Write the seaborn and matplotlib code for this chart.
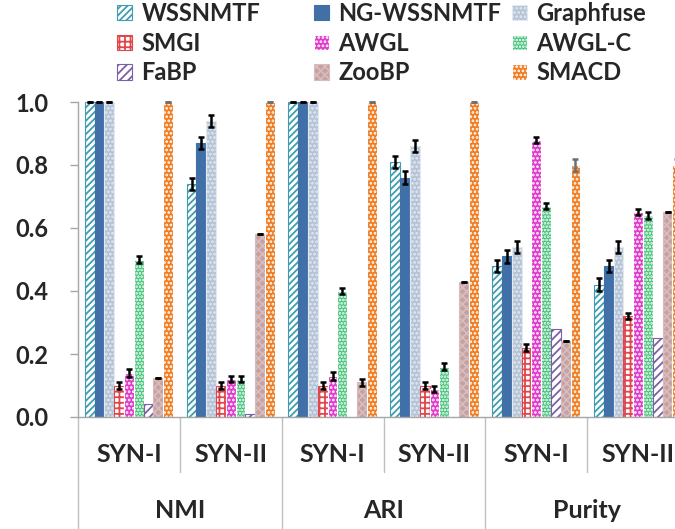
import numpy as np
import pandas as pd
import matplotlib
matplotlib.use("Agg")
import matplotlib.pyplot as plt
import matplotlib.patches as mpatches
import matplotlib.transforms as mtransforms
import seaborn as sns

# ---- data -------------------------------------------------------------
datasets = ["SYN-I", "SYN-II", "SYN-I", "SYN-II", "SYN-I", "SYN-II"]
metrics = ["NMI", "ARI", "Purity"]
methods = ["WSSNMTF", "NG-WSSNMTF", "Graphfuse", "SMGI", "AWGL", "AWGL-C",
           "FaBP", "ZooBP", "SMACD"]

wssnmtf = [1.00, 0.74, 1.00, 0.81, 0.48, 0.42]
ng_wssnmtf = [1.00, 0.87, 1.00, 0.76, 0.51, 0.48]
graphfuse = [1.00, 0.94, 1.00, 0.86, 0.54, 0.54]
smgi = [0.10, 0.10, 0.10, 0.10, 0.22, 0.32]
awgl = [0.14, 0.12, 0.13, 0.09, 0.88, 0.65]
awgl_c = [0.50, 0.12, 0.40, 0.16, 0.67, 0.64]
fabp = [0.04, 0.01, 0.00, 0.00, 0.28, 0.25]
zoobp = [0.125, 0.58, 0.11, 0.43, 0.24, 0.65]
smacd = [1.00, 1.00, 1.00, 1.00, 0.80, 0.80]

wssnmtf_err = [0.0, 0.02, 0.0, 0.02, 0.02, 0.02]
ng_wssnmtf_err = [0.0, 0.02, 0.0, 0.02, 0.02, 0.02]
graphfuse_err = [0.0, 0.02, 0.0, 0.02, 0.02, 0.02]
smgi_err = [0.012, 0.01, 0.01, 0.01, 0.012, 0.01]
awgl_err = [0.012, 0.01, 0.013, 0.01, 0.01, 0.01]
awgl_c_err = [0.01, 0.01, 0.01, 0.01, 0.01, 0.01]
fabp_err = [np.nan] * 6
zoobp_err = [0.0, 0.0, 0.012, 0.0, 0.0, 0.0]
smacd_err = [0.0, 0.0, 0.0, 0.0, 0.02, 0.02]

values = [wssnmtf, ng_wssnmtf, graphfuse, smgi, awgl, awgl_c, fabp, zoobp, smacd]
errors = [wssnmtf_err, ng_wssnmtf_err, graphfuse_err, smgi_err, awgl_err,
          awgl_c_err, fabp_err, zoobp_err, smacd_err]
err_colors = ["black"] * 8 + ["#6e6e6e"]

group_ids = [f"{metrics[i // 2]} {datasets[i]}" for i in range(6)]

# ---- bar appearance: face, hatch, hatch colour, edge ------------------
styles = {
    "WSSNMTF":    ("white",   "/////", "#3f9db1", "#9fd0dc"),
    "NG-WSSNMTF": ("#4170a8", "",      "#4170a8", "#4170a8"),
    "Graphfuse":  ("#b4c3d6", "....",  "#e3e9f1", "#a9bad0"),
    "SMGI":       ("white",   "+++",   "#e0474c", "#e0474c"),
    "AWGL":       ("#e03ccb", "....",  "white",   "#e86fd8"),
    "AWGL-C":     ("#45c27a", ".....", "white",   "#6fd197"),
    "FaBP":       ("white",   "////",  "#7d5fa9", "#7d5fa9"),
    "ZooBP":      ("#c7a0a0", "xxxx",  "#d6bcbc", "#b08080"),
    "SMACD":      ("#f07d22", "....",  "white",   "#f5a35f"),
}

HAS_HATCHCOLOR = hasattr(mpatches.Patch, "set_hatchcolor")


def style_patch(p, face, hatch, hcolor, edge):
    p.set_facecolor(face)
    p.set_hatch(hatch if hatch else None)
    if HAS_HATCHCOLOR:
        p.set_edgecolor(edge)
        p.set_hatchcolor(hcolor)
    else:
        p.set_edgecolor(hcolor if hatch else edge)
    p.set_linewidth(0.8)


# ---- long-form table ---------------------------------------------------
rows = []
for m, vals in zip(methods, values):
    for g, v in zip(group_ids, vals):
        rows.append({"group": g, "method": m, "score": v})
df = pd.DataFrame(rows)

sns.set_theme(style="white")
plt.rcParams["font.family"] = ["Lato", "DejaVu Sans"]
plt.rcParams["font.weight"] = "bold"
plt.rcParams["hatch.linewidth"] = 1.3

fig = plt.figure(figsize=(6.75, 5.29), dpi=100)
ax = fig.add_axes([78 / 675, 1 - 417 / 529, 611 / 675, 315 / 529])

sns.barplot(data=df, x="group", y="score", hue="method", order=group_ids,
            hue_order=methods, errorbar=None, width=0.867, gap=0,
            dodge=True, legend=False, ax=ax)

for m, cont, errs, ecol in zip(methods, ax.containers, errors, err_colors):
    face, hatch, hcol, edge = styles[m]
    xs, ys = [], []
    for p in cont.patches:
        style_patch(p, face, hatch, hcol, edge)
        if p.get_height() == 0:
            p.set_linewidth(0)
        xs.append(p.get_x() + p.get_width() / 2)
        ys.append(p.get_height())
    eb = ax.errorbar(xs, ys, yerr=errs, fmt="none", ecolor=ecol,
                     elinewidth=1.8, capsize=2.4, capthick=1.8, zorder=5)
    for art in eb.lines[1] + eb.lines[2]:
        art.set_clip_on(False)

# ---- axes --------------------------------------------------------------
ax.set_xlim(-0.5, 5.5)
ax.set_ylim(0, 1.0)
ax.set_yticks(np.arange(0, 1.01, 0.2))
ax.set_yticklabels([f"{t:.1f}" for t in np.arange(0, 1.01, 0.2)])
ax.tick_params(axis="y", left=True, length=6, width=1, color="#a6a6a6",
               pad=15, labelsize=17)
ax.set_xticks([])
ax.set_xlabel("")
ax.set_ylabel("")
for side in ["top", "right"]:
    ax.spines[side].set_visible(False)
for side in ["left", "bottom"]:
    ax.spines[side].set_color("#a6a6a6")
    ax.spines[side].set_linewidth(1)

# two-level category axis below the bars
trans = mtransforms.blended_transform_factory(ax.transData, fig.transFigure)
y_axis = 1 - 417 / 529
for xpos in [-0.5, 1.5, 3.5, 5.5]:
    ax.plot([xpos, xpos], [y_axis, 0], transform=trans, color="#bfbfbf",
            lw=1, clip_on=False)
for xpos in [0.5, 2.5, 4.5]:
    ax.plot([xpos, xpos], [y_axis, 1 - 472 / 529], transform=trans,
            color="#bfbfbf", lw=1, clip_on=False)
for i, d in enumerate(datasets):
    ax.text(i, 1 - 455 / 529, d, transform=trans, ha="center", va="center",
            fontsize=18, fontweight="bold")
for j, m in enumerate(metrics):
    ax.text(2 * j + 0.5, 1 - 510 / 529, m, transform=trans, ha="center",
            va="center", fontsize=18, fontweight="bold")

# ---- legend: three columns -------------------------------------------
handles = []
for m in methods:
    face, hatch, hcol, edge = styles[m]
    h = mpatches.Patch(label=m)
    style_patch(h, face, hatch, hcol, edge)
    handles.append(h)

col_x = [117, 314, 512]
for c in range(3):
    fig.legend(handles=handles[c::3], loc="upper left",
               bbox_to_anchor=(col_x[c] / 675, 1 - 2 / 529),
               frameon=False, borderpad=0, borderaxespad=0,
               handlelength=0.62, handleheight=0.62, handletextpad=0.42,
               labelspacing=0.28, prop={"weight": "bold", "size": 17})

fig.savefig("out.png", dpi=100)
